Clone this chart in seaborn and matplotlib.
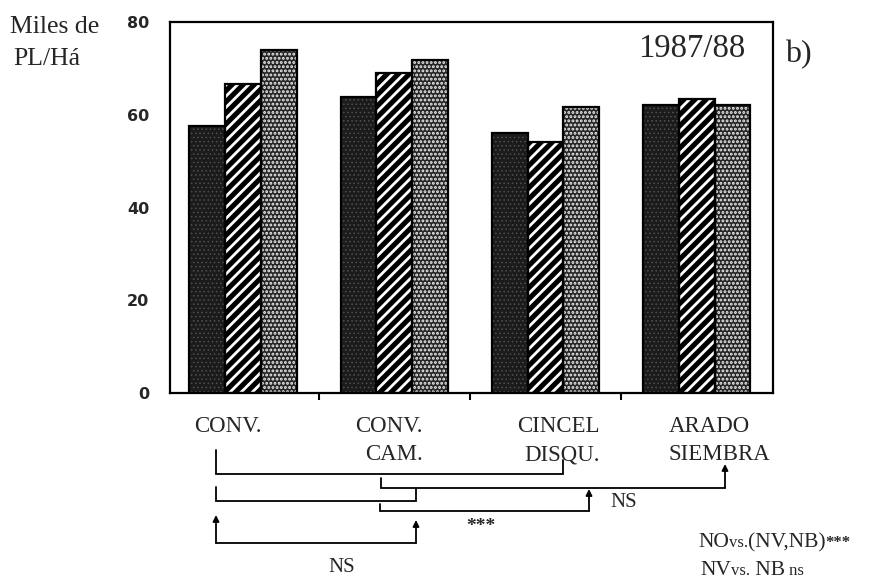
import matplotlib
matplotlib.use("Agg")
import matplotlib.pyplot as plt
import seaborn as sns
import pandas as pd
from matplotlib.lines import Line2D
from matplotlib.patches import Rectangle, FancyArrowPatch
from matplotlib.transforms import blended_transform_factory

# ---- data -------------------------------------------------------------
sistemas = ["CONV.", "CONV.\nCAM.", "CINCEL\nDISQU.", "ARADO\nSIEMBRA"]
tratamientos = ["NO", "NV", "NB"]
plantas_no = [57.6, 63.8, 56.1, 62.1]
plantas_nv = [66.6, 69.0, 54.1, 63.4]
plantas_nb = [74.0, 71.8, 61.7, 62.1]
y_ticks = [0, 20, 40, 60, 80]

df = pd.DataFrame({
    "sistema": sistemas * 3,
    "tratamiento": [t for t in tratamientos for _ in sistemas],
    "plantas": plantas_no + plantas_nv + plantas_nb,
})

# ---- style ------------------------------------------------------------
sns.set_style("white")
plt.rcParams["font.family"] = ["Liberation Serif", "DejaVu Serif"]
plt.rcParams["hatch.linewidth"] = 2.0

W, H = 888, 587
fig = plt.figure(figsize=(W / 100, H / 100), dpi=100)


def fx(px):
    return px / W


def fy(py):
    return 1 - py / H


ax = fig.add_axes([fx(170), fy(393), fx(773) - fx(170), fy(22) - fy(393)])

sns.barplot(data=df, x="sistema", y="plantas", hue="tratamiento",
            order=sistemas, hue_order=tratamientos,
            palette=["#1b1b1b", "#000000", "#2a2a2a"], saturation=1,
            width=0.71, edgecolor="black", linewidth=1.5,
            legend=False, errorbar=None, ax=ax)

# fill textures: dark stipple, white-on-black stripes, white dot screen
textures = {
    "NO": dict(face="#1b1b1b", hatch="....", hcolor="#505050", hlw=0.6),
    "NV": dict(face="#000000", hatch="///", hcolor="#ffffff", hlw=2.0),
    "NB": dict(face="#262626", hatch="....", hcolor="#f0f0f0", hlw=1.4),
}
for cont, trat in zip(ax.containers, tratamientos):
    tx = textures[trat]
    for bar in cont:
        bar.set_facecolor(tx["face"])
        bar.set_edgecolor(tx["hcolor"])
        bar.set_hatch(tx["hatch"])
        bar.set_linewidth(0)
        if hasattr(bar, "set_hatch_linewidth"):
            bar.set_hatch_linewidth(tx["hlw"])
        ax.add_patch(Rectangle(bar.get_xy(), bar.get_width(), bar.get_height(),
                               fill=False, edgecolor="black", linewidth=1.6,
                               zorder=bar.get_zorder() + 0.1))

ax.set_xlim(-0.483, 3.505)
ax.set_ylim(0, 80)
ax.set_xlabel("")
ax.set_ylabel("")
ax.set_xticks([0.5, 1.5, 2.5])
ax.set_xticklabels([])
ax.tick_params(axis="x", bottom=True, direction="out", length=5, width=1.5,
               color="black")
ax.set_yticks(y_ticks)
ax.set_yticklabels([str(v) for v in y_ticks], family="DejaVu Sans",
                   fontweight="bold", fontsize=11.5)
ax.tick_params(axis="y", length=0, pad=15)
for sp in ax.spines.values():
    sp.set_visible(True)
    sp.set_color("black")
    sp.set_linewidth(1.6)

# ---- texts --------------------------------------------------------------
ax.text(0.955, 0.905, "1987/88", transform=ax.transAxes, ha="right",
        va="baseline", fontsize=23.5)
fig.text(fx(785), fy(62), "b)", ha="left", va="baseline", fontsize=23)
fig.text(fx(10), fy(33), "Miles de", ha="left", va="baseline", fontsize=18.5)
fig.text(fx(13), fy(65), "PL/Há", ha="left", va="baseline", fontsize=18.5)

# category names under the axis
blend = blended_transform_factory(ax.transData, fig.transFigure)
anclas = [(-0.10, "center"), (1.187, "right"), (2.358, "right"), (2.814, "left")]
for nombre, (xa, ha) in zip(sistemas, anclas):
    for k, linea in enumerate(nombre.split("\n")):
        ax.text(xa, fy(432 + 28 * k), linea, transform=blend, ha=ha,
                va="baseline", fontsize=16.5, clip_on=False)

# ---- comparison brackets ---------------------------------------------------
lw = 1.3


def linea(pts):
    xs = [fx(p[0]) for p in pts]
    ys = [fy(p[1]) for p in pts]
    fig.add_artist(Line2D(xs, ys, transform=fig.transFigure, color="black",
                          linewidth=lw, solid_joinstyle="miter"))


def flecha(x, y0, y1):
    fig.add_artist(FancyArrowPatch((fx(x), fy(y0)), (fx(x), fy(y1)),
                                   transform=fig.transFigure,
                                   arrowstyle="-|>", mutation_scale=9,
                                   color="black", linewidth=lw,
                                   shrinkA=0, shrinkB=0))


linea([(216, 450), (216, 474), (563, 474), (563, 460)])
linea([(381, 478), (381, 488), (725, 488)])
flecha(725, 488, 464)
linea([(216, 487), (216, 501), (416, 501), (416, 488)])
linea([(380, 504), (380, 511), (589, 511)])
flecha(589, 511, 489)
linea([(216, 543), (416, 543)])
flecha(216, 543, 515)
flecha(416, 543, 520)

fig.text(fx(610), fy(507), "NS", ha="left", va="baseline", fontsize=15)
fig.text(fx(481), fy(531), "***", ha="center", va="baseline", fontsize=14,
         fontweight="bold")
fig.text(fx(342), fy(572), "NS", ha="center", va="baseline", fontsize=15)

# contrast notes, fragments of mixed size sharing one baseline
renderer = fig.canvas.get_renderer()


def nota(x0, y0, fragmentos):
    x = fx(x0)
    for frag, size, weight in fragmentos:
        t = fig.text(x, fy(y0), frag, ha="left", va="baseline",
                     fontsize=size, fontweight=weight)
        bb = t.get_window_extent(renderer)
        x = bb.x1 / (W)


nota(698, 547, [("NO", 15.5, "normal"), ("vs.", 12, "normal"),
                ("(NV,NB)", 15.5, "normal"), ("***", 12, "bold")])
nota(700, 575, [("NV", 15.5, "normal"), ("vs.", 12, "normal"),
                (" NB", 15.5, "normal"), (" ns", 12, "normal")])

fig.savefig("out.png", dpi=100)
